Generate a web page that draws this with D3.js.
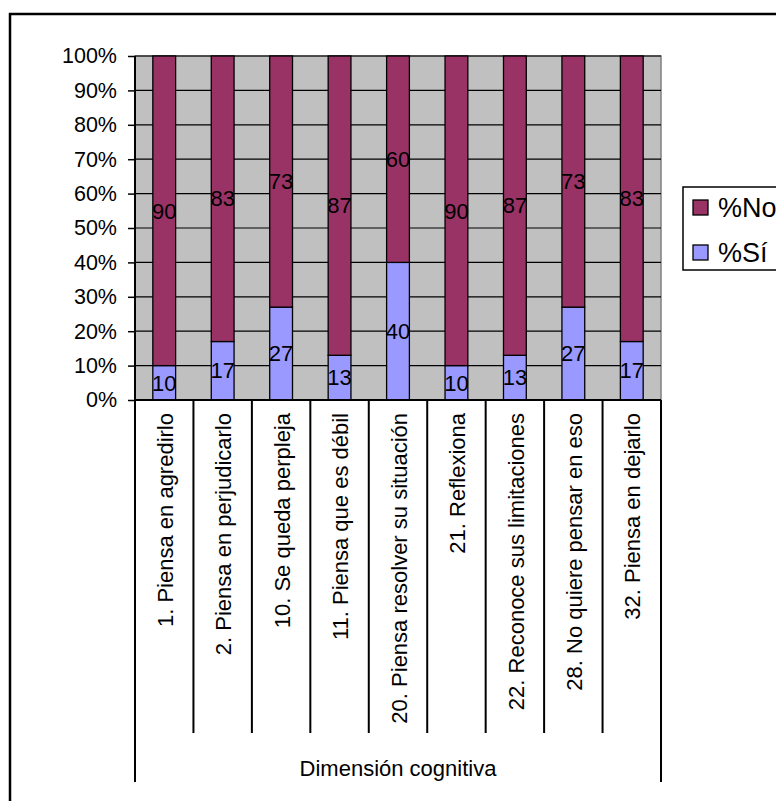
<!DOCTYPE html>
<html>
<head>
<meta charset="utf-8">
<script src="https://cdn.jsdelivr.net/npm/d3@7"></script>
<style>
  body { margin: 0; background: #fff; }
  text { font-family: "Liberation Sans", Arial, sans-serif; fill: #000; }
</style>
</head>
<body>
<script>
// chart data
var categories = ["1. Piensa en agredirlo", "2. Piensa en perjudicarlo", "10. Se queda perpleja",
  "11. Piensa que es débil", "20. Piensa resolver su situación", "21. Reflexiona",
  "22. Reconoce sus limitaciones", "28. No quiere pensar en eso", "32. Piensa en dejarlo"];
var pctSi = [10, 17, 27, 13, 40, 10, 13, 27, 17];
var pctNo = [90, 83, 73, 87, 60, 90, 87, 73, 83];
var yTicks = [0, 10, 20, 30, 40, 50, 60, 70, 80, 90, 100];
var groupLabel = "Dimensión cognitiva";
var seriesNames = ["%No", "%Sí"];

var colors = { si: "#9999ff", no: "#993366" };

var plot = { left: 135, right: 661, top: 56, bottom: 400 };

var svg = d3.select("body").append("svg")
    .attr("width", 776)
    .attr("height", 801);

// outer chart border (runs off the right and bottom edges)
svg.append("rect")
    .attr("x", 10).attr("y", 14)
    .attr("width", 800).attr("height", 820)
    .attr("fill", "none").attr("stroke", "#000").attr("stroke-width", 2.5);

var x = d3.scaleBand()
    .domain(categories)
    .range([plot.left, plot.right])
    .paddingInner(0.61).paddingOuter(0.305);

var y = d3.scaleLinear().domain([0, 100]).range([plot.bottom, plot.top]);

// plot background
svg.append("rect")
    .attr("x", plot.left).attr("y", plot.top)
    .attr("width", plot.right - plot.left).attr("height", plot.bottom - plot.top)
    .attr("fill", "#c0c0c0").attr("stroke", "#808080").attr("stroke-width", 1.5);

// gridlines
svg.append("g").selectAll("line")
    .data(yTicks.slice(1))
  .enter().append("line")
    .attr("x1", plot.left).attr("x2", plot.right)
    .attr("y1", function(d) { return y(d); })
    .attr("y2", function(d) { return y(d); })
    .attr("stroke", "#000").attr("stroke-width", 1.2);

// stacked bars
var rows = categories.map(function(c, i) { return { cat: c, si: pctSi[i], no: pctNo[i] }; });
var stack = d3.stack().keys(["si", "no"])(rows);

var layer = svg.append("g").selectAll("g")
    .data(stack)
  .enter().append("g")
    .attr("fill", function(d) { return colors[d.key]; });

layer.selectAll("rect")
    .data(function(d) { return d; })
  .enter().append("rect")
    .attr("x", function(d) { return x(d.data.cat); })
    .attr("width", x.bandwidth())
    .attr("y", function(d) { return y(d[1]); })
    .attr("height", function(d) { return y(d[0]) - y(d[1]); })
    .attr("stroke", "#000").attr("stroke-width", 1.3);

// value labels
layer.selectAll("text")
    .data(function(d) { return d.map(function(p) { p.key = d.key; return p; }); })
  .enter().append("text")
    .attr("x", function(d) { return x(d.data.cat) + x.bandwidth() / 2; })
    .attr("y", function(d) { return y((d[0] + d[1]) / 2); })
    .attr("dy", "0.35em")
    .attr("text-anchor", "middle")
    .style("font-size", "22px")
    .text(function(d) { return d.data[d.key]; });

// y axis
var yAxis = svg.append("g")
    .attr("transform", "translate(" + plot.left + ",0)")
    .call(d3.axisLeft(y).tickValues(yTicks).tickSize(7).tickPadding(11)
      .tickFormat(function(d) { return d + "%"; }));
yAxis.select(".domain").remove();
yAxis.selectAll(".tick line").attr("stroke", "#000").attr("stroke-width", 1.5);
yAxis.selectAll("text")
    .style("font-family", '"Liberation Sans", Arial, sans-serif')
    .style("font-size", "21.5px");

// axis lines
svg.append("line")
    .attr("x1", plot.left).attr("x2", plot.left)
    .attr("y1", plot.top).attr("y2", 782)
    .attr("stroke", "#000").attr("stroke-width", 2);
svg.append("line")
    .attr("x1", plot.right).attr("x2", plot.right)
    .attr("y1", plot.bottom).attr("y2", 782)
    .attr("stroke", "#000").attr("stroke-width", 2);
svg.append("line")
    .attr("x1", plot.left).attr("x2", plot.right)
    .attr("y1", plot.bottom).attr("y2", plot.bottom)
    .attr("stroke", "#000").attr("stroke-width", 2);

// category separators
var step = x.step();
svg.append("g").selectAll("line")
    .data(categories.slice(1))
  .enter().append("line")
    .attr("x1", function(d) { return x(d) + x.bandwidth() / 2 - step / 2; })
    .attr("x2", function(d) { return x(d) + x.bandwidth() / 2 - step / 2; })
    .attr("y1", plot.bottom).attr("y2", 733)
    .attr("stroke", "#000").attr("stroke-width", 2);

// category labels (rotated)
svg.append("g").selectAll("text")
    .data(categories)
  .enter().append("text")
    .attr("transform", function(d) {
      return "translate(" + (x(d) + x.bandwidth() / 2 + 1) + "," + (plot.bottom + 13) + ") rotate(-90)";
    })
    .attr("dy", "0.35em")
    .attr("text-anchor", "end")
    .style("font-size", "22px")
    .text(function(d) { return d; });

svg.append("text")
    .attr("x", (plot.left + plot.right) / 2)
    .attr("y", 768)
    .attr("dy", "0.35em")
    .attr("text-anchor", "middle")
    .style("font-size", "22px")
    .text(groupLabel);

// legend
var legend = svg.append("g");
legend.append("rect")
    .attr("x", 683).attr("y", 187)
    .attr("width", 120).attr("height", 83)
    .attr("fill", "#fff").attr("stroke", "#000").attr("stroke-width", 1.5);

var legendColors = [colors.no, colors.si];
var item = legend.selectAll(".item")
    .data(seriesNames)
  .enter().append("g")
    .attr("class", "item")
    .attr("transform", function(d, i) { return "translate(693," + (207.5 + i * 45) + ")"; });
item.append("rect")
    .attr("x", 0).attr("y", -7.5)
    .attr("width", 15).attr("height", 15)
    .attr("fill", function(d, i) { return legendColors[i]; })
    .attr("stroke", "#000").attr("stroke-width", 1.3);
item.append("text")
    .attr("x", 25).attr("dy", "0.35em")
    .style("font-size", "27px")
    .text(function(d) { return d; });
</script>
</body>
</html>
